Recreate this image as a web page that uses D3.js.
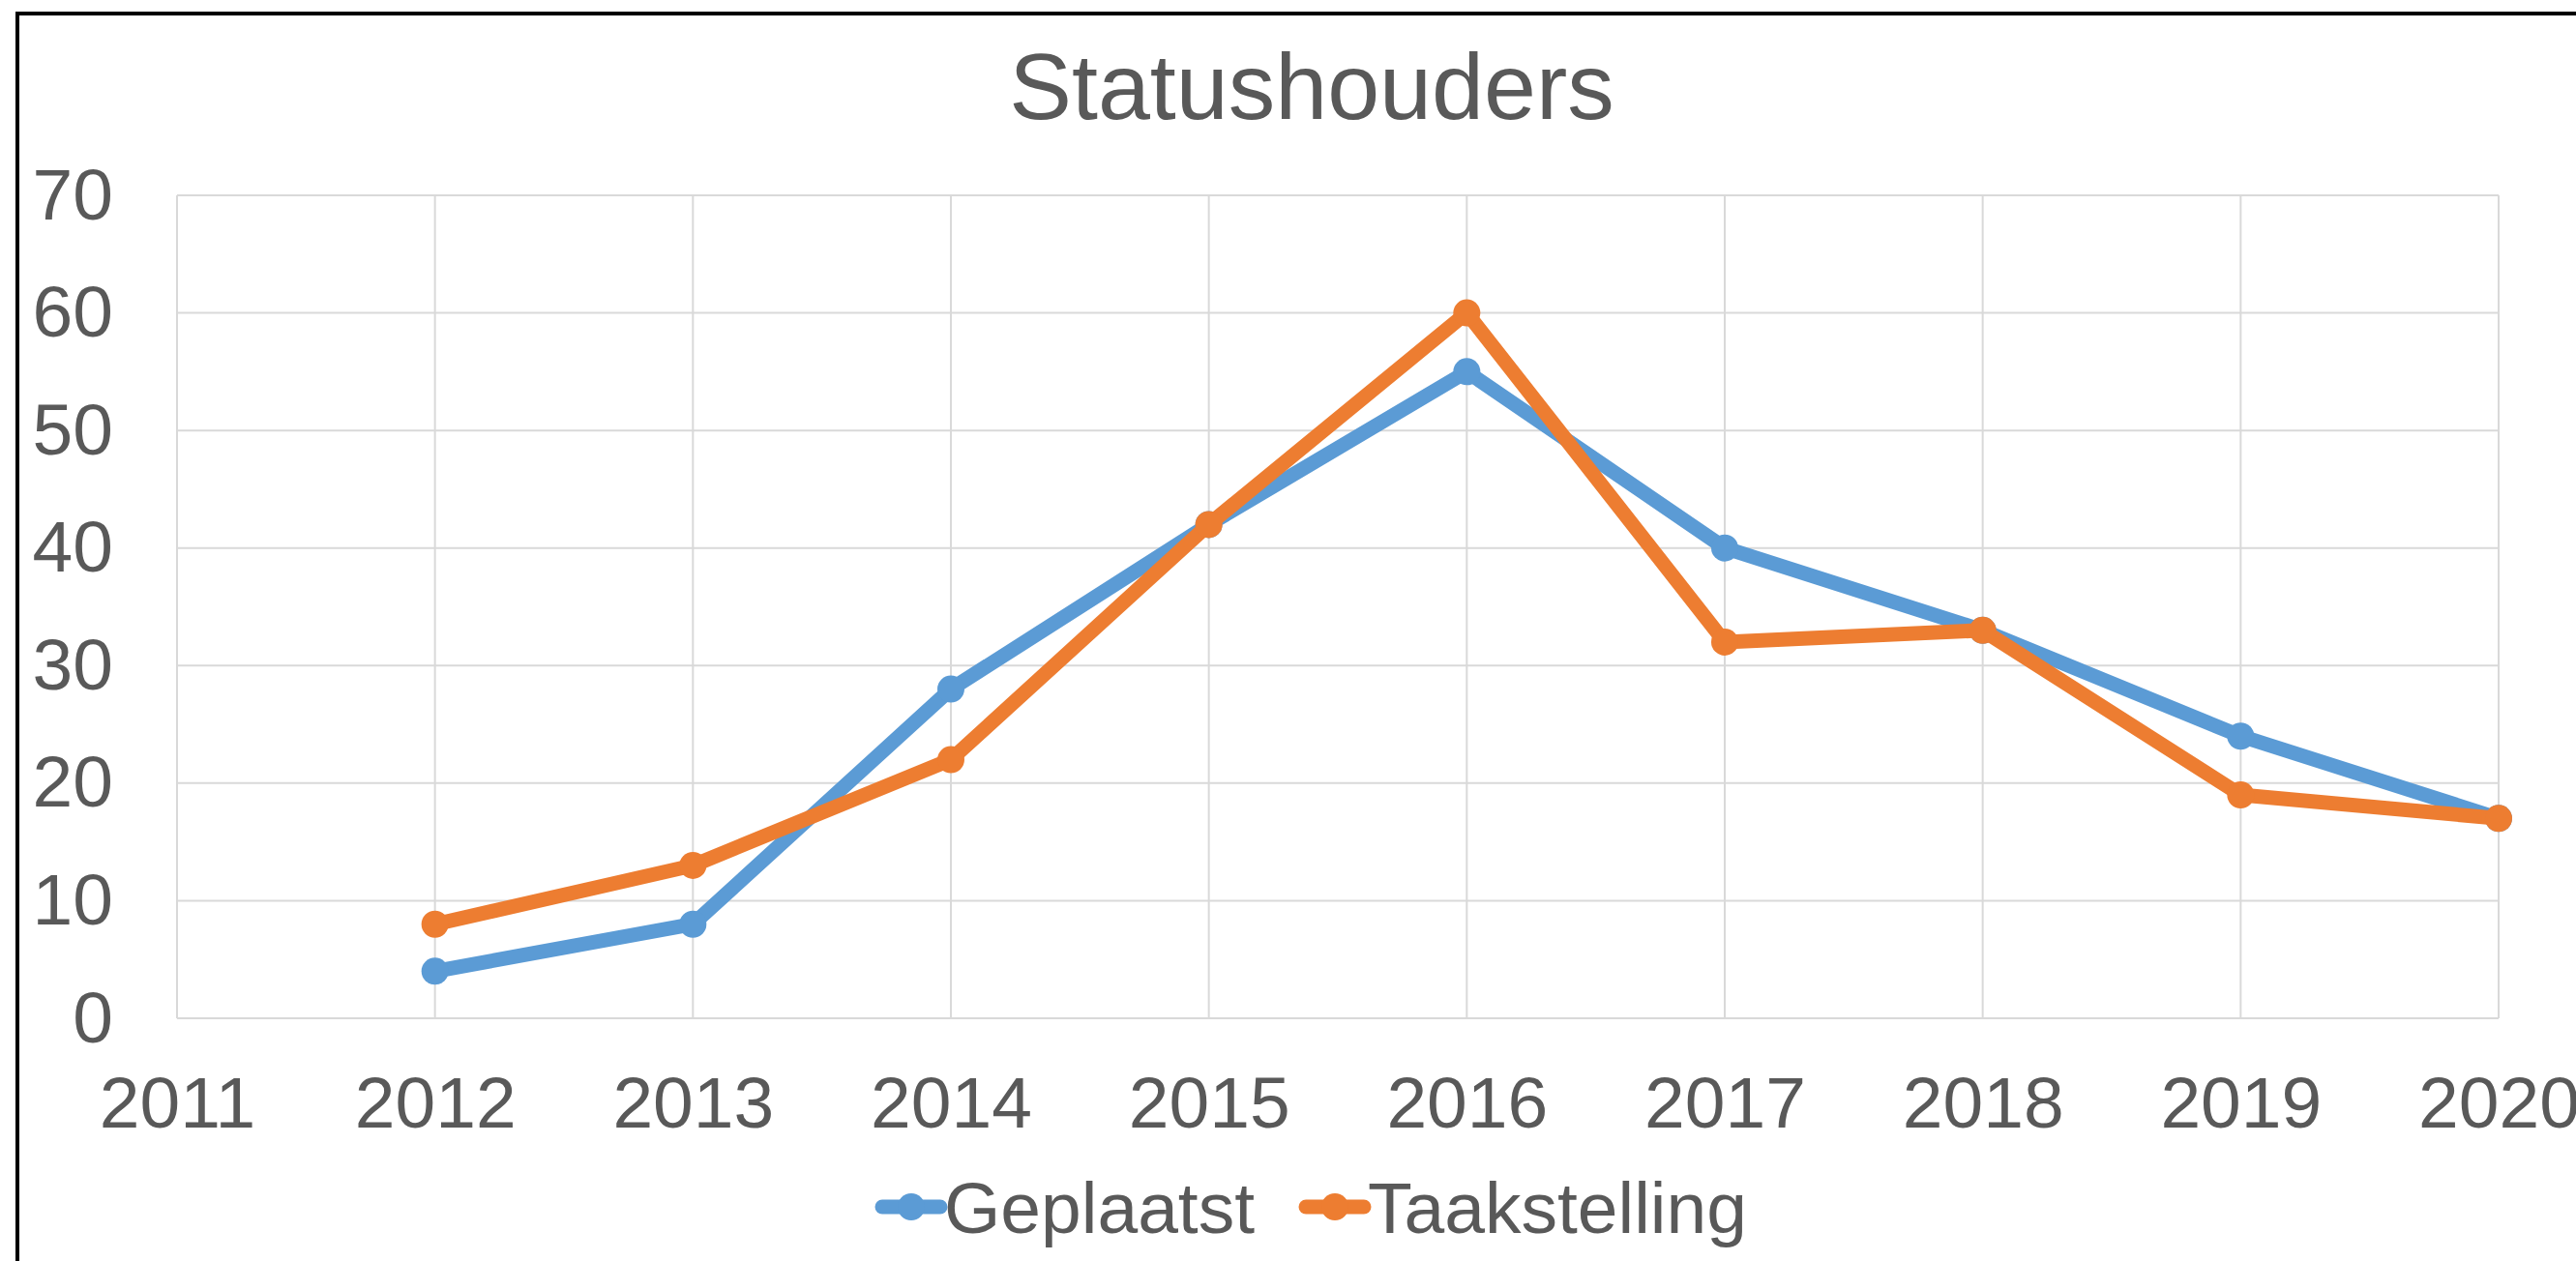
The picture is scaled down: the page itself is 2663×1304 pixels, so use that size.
<!DOCTYPE html>
<html>
<head>
<meta charset="utf-8">
<script src="https://cdn.jsdelivr.net/npm/d3@7"></script>
<style>
    body { margin: 0; background: #fff; overflow: hidden; }
    text { font-family: "Liberation Sans", Arial, sans-serif; fill: #595959; }
</style>
</head>
<body>
<script>

// Data
const years = [2012, 2013, 2014, 2015, 2016, 2017, 2018, 2019, 2020];
const geplaatst = [4, 8, 28, 42, 55, 40, 33, 24, 17];
const taakstelling = [8, 13, 22, 42, 60, 32, 33, 19, 17];
const xTicks = [2011, 2012, 2013, 2014, 2015, 2016, 2017, 2018, 2019, 2020];
const yTicks = [0, 10, 20, 30, 40, 50, 60, 70];

// SVG size
const w = 2663;
const h = 1304;

// Plot area
const plotLeft = 183;
const plotRight = 2583;
const plotTop = 202;
const plotBottom = 1053;

const series = [
    { name: "Geplaatst", values: geplaatst, color: "#5B9BD5" },
    { name: "Taakstelling", values: taakstelling, color: "#ED7D31" }
];

// Scales
const xScale = d3.scaleLinear()
    .domain([2011, 2020])
    .range([plotLeft, plotRight]);

const yScale = d3.scaleLinear()
    .domain([0, 70])
    .range([plotBottom, plotTop]);

// Create SVG
const svg = d3.select("body")
    .append("svg")
    .attr("width", w)
    .attr("height", h);

// Chart border (right and bottom edges run off the picture)
svg.append("rect")
    .attr("x", 18)
    .attr("y", 14)
    .attr("width", 2740)
    .attr("height", 1400)
    .attr("fill", "none")
    .attr("stroke", "#000")
    .attr("stroke-width", 4);

// Title
svg.append("text")
    .attr("x", 1356)
    .attr("y", 123)
    .attr("text-anchor", "middle")
    .attr("font-size", 97)
    .text("Statushouders");

// Horizontal gridlines
svg.append("g")
    .selectAll("line")
    .data(yTicks)
    .join("line")
    .attr("x1", plotLeft)
    .attr("x2", plotRight)
    .attr("y1", d => yScale(d))
    .attr("y2", d => yScale(d))
    .attr("stroke", "#D9D9D9")
    .attr("stroke-width", 2);

// Vertical gridlines
svg.append("g")
    .selectAll("line")
    .data(xTicks)
    .join("line")
    .attr("x1", d => xScale(d))
    .attr("x2", d => xScale(d))
    .attr("y1", plotTop)
    .attr("y2", plotBottom)
    .attr("stroke", "#D9D9D9")
    .attr("stroke-width", 2);

// Y-axis labels
const leftAxis = d3.axisLeft(yScale)
    .tickValues(yTicks)
    .tickSize(0)
    .tickPadding(66);

svg.append("g")
    .attr("transform", `translate(${plotLeft}, 0)`)
    .call(leftAxis)
    .call(g => g.select(".domain").remove())
    .selectAll("text")
    .attr("font-size", 75)
    .attr("font-family", null)
    .attr("fill", null);

// X-axis labels
const bottomAxis = d3.axisBottom(xScale)
    .tickValues(xTicks)
    .tickFormat(d3.format("d"))
    .tickSize(0)
    .tickPadding(60);

svg.append("g")
    .attr("transform", `translate(0, ${plotBottom})`)
    .call(bottomAxis)
    .call(g => g.select(".domain").remove())
    .selectAll("text")
    .attr("font-size", 75)
    .attr("font-family", null)
    .attr("fill", null);

// Line generator
const line = d3.line()
    .x((d, i) => xScale(years[i]))
    .y(d => yScale(d));

// Draw lines and markers
series.forEach(s => {

    svg.append("path")
        .datum(s.values)
        .attr("fill", "none")
        .attr("stroke", s.color)
        .attr("stroke-width", 15)
        .attr("stroke-linejoin", "round")
        .attr("d", line);

    svg.append("g")
        .selectAll("circle")
        .data(s.values)
        .join("circle")
        .attr("cx", (d, i) => xScale(years[i]))
        .attr("cy", d => yScale(d))
        .attr("r", 14)
        .attr("fill", s.color);
});

// Legend
const legendX = [912, 1350];

series.forEach((s, i) => {

    const x = legendX[i];
    const y = 1248;

    svg.append("line")
        .attr("x1", x)
        .attr("x2", x + 60)
        .attr("y1", y)
        .attr("y2", y)
        .attr("stroke", s.color)
        .attr("stroke-width", 15)
        .attr("stroke-linecap", "round");

    svg.append("circle")
        .attr("cx", x + 30)
        .attr("cy", y)
        .attr("r", 14)
        .attr("fill", s.color);

    svg.append("text")
        .attr("x", x + 64)
        .attr("y", y + 27)
        .attr("font-size", 75)
        .text(s.name);
});

</script>
</body>
</html>
